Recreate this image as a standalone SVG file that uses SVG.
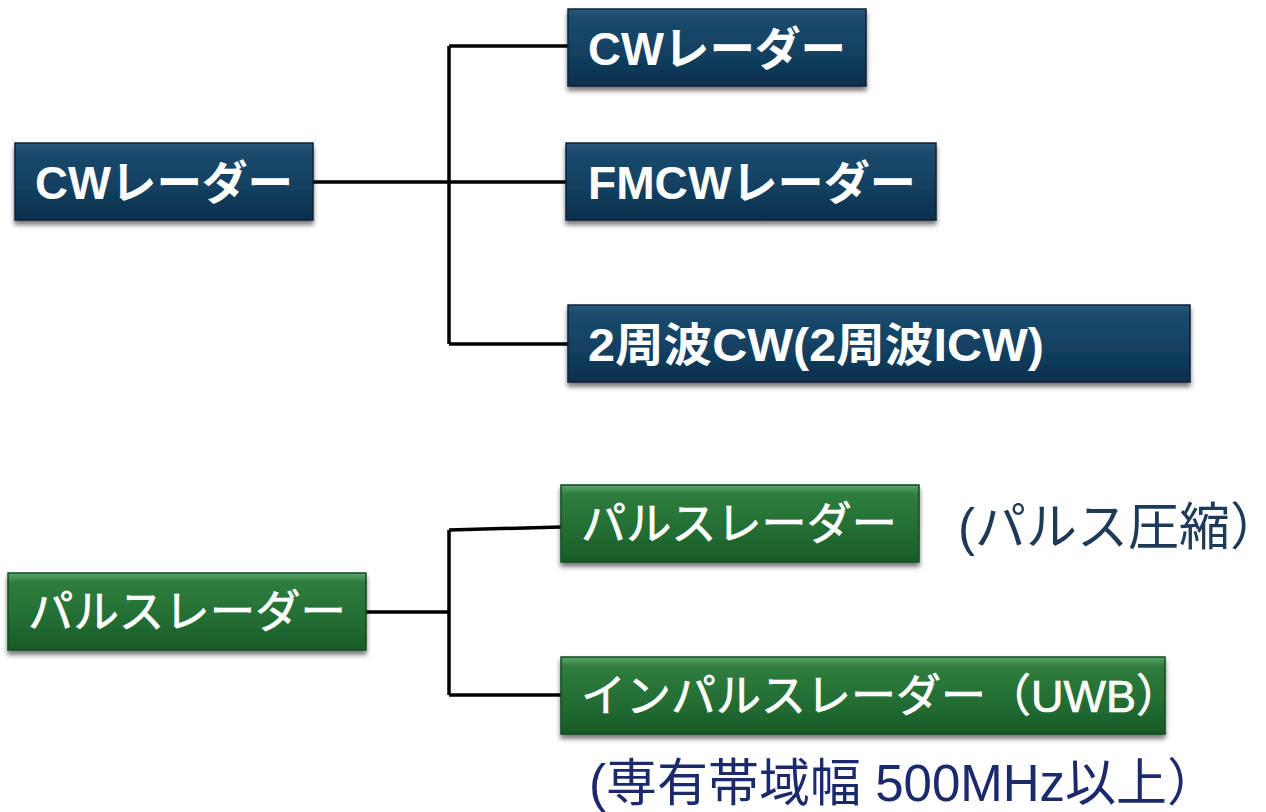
<svg xmlns="http://www.w3.org/2000/svg" width="1266" height="812" viewBox="0 0 1266 812">
<defs>
<linearGradient id="gb" x1="0" y1="0" x2="0" y2="1">
<stop offset="0" stop-color="#2a5a7e"/>
<stop offset="0.12" stop-color="#1b4a6c"/>
<stop offset="0.6" stop-color="#123f60"/>
<stop offset="1" stop-color="#0b2f4b"/>
</linearGradient>
<linearGradient id="gg" x1="0" y1="0" x2="0" y2="1">
<stop offset="0" stop-color="#5aa86a"/>
<stop offset="0.12" stop-color="#2f7d3e"/>
<stop offset="0.6" stop-color="#236d33"/>
<stop offset="1" stop-color="#185a27"/>
</linearGradient>
<filter id="sh" x="-5%" y="-10%" width="110%" height="130%">
<feGaussianBlur in="SourceAlpha" stdDeviation="2.5"/>
<feOffset dx="0" dy="4" result="b"/>
<feComponentTransfer><feFuncA type="linear" slope="0.55"/></feComponentTransfer>
<feMerge><feMergeNode/><feMergeNode in="SourceGraphic"/></feMerge>
</filter>
</defs>
<style>
.bb{fill:url(#gb);stroke:#0a2238;stroke-width:1.5;filter:url(#sh)}
.bg{fill:url(#gg);stroke:#134a1f;stroke-width:1.5;filter:url(#sh)}
.t{font-family:"Liberation Sans","Noto Sans CJK JP",sans-serif;font-size:46px;font-weight:bold;fill:#ffffff}
.tg{font-family:"Liberation Sans","Noto Sans CJK JP",sans-serif;font-size:45px;font-weight:normal;fill:#ffffff;stroke:#ffffff;stroke-width:0.7}
.n{font-family:"Liberation Sans","Noto Sans CJK JP",sans-serif;}
.c{fill:none;stroke:#000;stroke-width:3.5}
</style>
<g id="connectors">
<path class="c" d="M313,182 H449 M449,46 V344 M449,46 H568 M449,182 H566 M449,344 H568"/>
<path class="c" d="M366,612 H449 M449,530 V695 M449,530 L561,527 M449,695 H561"/>
</g>
<g id="cw-root">
<rect class="bb" x="15" y="143" width="298" height="77"/>
<text class="t" x="35" y="199" textLength="258" lengthAdjust="spacingAndGlyphs">CWレーダー</text>
</g>
<g id="cw">
<rect class="bb" x="568" y="9" width="298" height="77"/>
<text class="t" x="588" y="65" textLength="258" lengthAdjust="spacingAndGlyphs">CWレーダー</text>
</g>
<g id="fmcw">
<rect class="bb" x="566" y="143" width="370" height="77"/>
<text class="t" x="588" y="199" textLength="328" lengthAdjust="spacingAndGlyphs">FMCWレーダー</text>
</g>
<g id="twofreq">
<rect class="bb" x="568" y="305" width="622" height="77"/>
<text class="t" x="588" y="361" textLength="456" lengthAdjust="spacingAndGlyphs">2周波CW(2周波ICW)</text>
</g>
<g id="pulse-root">
<rect class="bg" x="8" y="573" width="358" height="77"/>
<text class="tg" x="28" y="628" textLength="318" lengthAdjust="spacingAndGlyphs">パルスレーダー</text>
</g>
<g id="pulse">
<rect class="bg" x="561" y="485" width="358" height="77"/>
<text class="tg" x="581" y="540" textLength="316" lengthAdjust="spacingAndGlyphs">パルスレーダー</text>
<text class="n" x="958" y="545" font-size="51" fill="#1d3a58">(パルス圧縮<tspan letter-spacing="-32">）</tspan></text>
</g>
<g id="impulse">
<rect class="bg" x="561" y="657" width="604" height="77"/>
<text class="tg" x="581" y="712" font-size="44">インパルスレーダー（UWB）</text>
<text class="n" x="589" y="801" font-size="51" fill="#1a2a6c">(専有帯域幅 500MHz以上）</text>
</g>
</svg>
